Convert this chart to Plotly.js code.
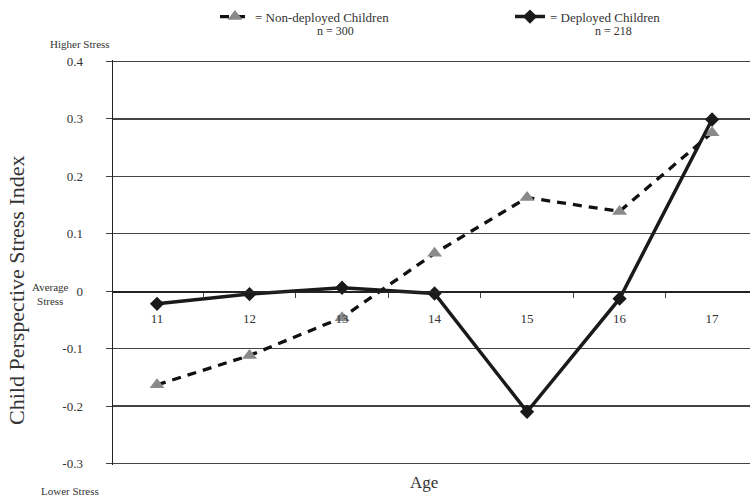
<!DOCTYPE html>
<html>
<head>
<meta charset="utf-8">
<script src="https://cdn.plot.ly/plotly-3.0.1.min.js"></script>
<style>html,body{margin:0;padding:0;background:#fff;}#chart{width:750px;height:503px;}</style>
</head>
<body>
<div id="chart"></div>
<script>
const ages = ["11", "12", "13", "14", "15", "16", "17"];
const nonDeployed = [-0.163, -0.112, -0.046, 0.066, 0.163, 0.139, 0.276];
const deployed = [-0.022, -0.005, 0.006, -0.004, -0.21, -0.013, 0.299];
const yTickVals = [0.4, 0.3, 0.2, 0.1, 0, -0.1, -0.2, -0.3];
const yTickText = ["0.4", "0.3", "0.2", "0.1", "0", "-0.1", "-0.2", "-0.3"];
const nonDeployedName = "= Non-deployed Children";
const deployedName = "= Deployed Children";
const nonDeployedN = "n = 300";
const deployedN = "n = 218";

const yRange = [-0.3026, 0.4026];
const zeroPos = (0 - yRange[0]) / (yRange[1] - yRange[0]);
const font = "Liberation Serif, Times New Roman, serif";
const txt = "#333";
const L = 113, T = 59.5, W = 637, H = 406;
const px = v => (v - L) / W;
const py = v => (T + H - v) / H;

const traces = [
  {
    x: ages, y: nonDeployed, name: nonDeployedName, type: "scatter", mode: "lines+markers",
    line: {color: "#111", width: 3.3, dash: "9px,7px"},
    marker: {symbol: "triangle-up", size: 13, color: "#8a8a8a"}
  },
  {
    x: ages, y: deployed, name: deployedName, type: "scatter", mode: "lines+markers",
    line: {color: "#1a1a1a", width: 3.5},
    marker: {symbol: "diamond", size: 11, color: "#1a1a1a"}
  },
  {
    // empty helper trace so the upper half-axis (which carries the x axis at y = 0) exists
    x: [], y: [], xaxis: "x", yaxis: "y2", type: "scatter", mode: "markers",
    showlegend: false, hoverinfo: "skip"
  }
];

const ann = (text, x, y, size) => ({
  text: text, xref: "paper", yref: "paper", x: px(x), y: py(y),
  xanchor: "center", yanchor: "middle", showarrow: false,
  font: {family: font, size: size, color: txt}
});

const layout = {
  width: 750, height: 503,
  margin: {l: L, r: 750 - L - W, t: T, b: 503 - T - H, autoexpand: false},
  paper_bgcolor: "#fff", plot_bgcolor: "rgba(0,0,0,0)",
  font: {family: font, color: txt, size: 13},
  showlegend: true,
  legend: {
    orientation: "h", x: px(215), y: py(1), xanchor: "left", yanchor: "top",
    entrywidth: 250, entrywidthmode: "pixels",
    font: {family: font, size: 13, color: txt}, bgcolor: "rgba(0,0,0,0)"
  },
  xaxis: {
    type: "category", range: [-0.476, 6.41],
    anchor: "y2",
    showline: true, linecolor: "#222", linewidth: 1.5,
    showgrid: false, zeroline: false,
    ticks: "outside", tickson: "boundaries", ticklen: 5, tickcolor: "#444",
    ticklabelstandoff: 15,
    tickfont: {family: font, size: 13, color: txt},
    fixedrange: true
  },
  yaxis: {
    range: yRange, domain: [0, 1], anchor: "x",
    tickvals: yTickVals, ticktext: yTickText,
    showline: true, linecolor: "#222", linewidth: 1.5,
    showgrid: true, gridcolor: "#444", gridwidth: 1.2,
    zeroline: false,
    ticks: "outside", ticklen: 6, tickcolor: "#444",
    ticklabelstandoff: 20,
    tickfont: {family: font, size: 13, color: txt},
    fixedrange: true
  },
  yaxis2: {
    domain: [zeroPos, 1], anchor: "x", range: [0, 1],
    showline: false, showgrid: false, zeroline: false,
    showticklabels: false, ticks: "", fixedrange: true
  },
  annotations: [
    ann(nonDeployedN, 335, 30, 12),
    ann(deployedN, 613, 30, 12),
    ann("Higher Stress", 80, 43, 11),
    ann("Average<br>Stress", 50, 294, 11),
    ann("Lower Stress", 70, 492, 11),
    ann("Age", 424, 483, 17),
    Object.assign(ann("Child Perspective Stress Index", 17, 291, 22), {textangle: -90})
  ]
};

Plotly.newPlot("chart", traces, layout, {displayModeBar: false, staticPlot: true});
</script>
</body>
</html>
